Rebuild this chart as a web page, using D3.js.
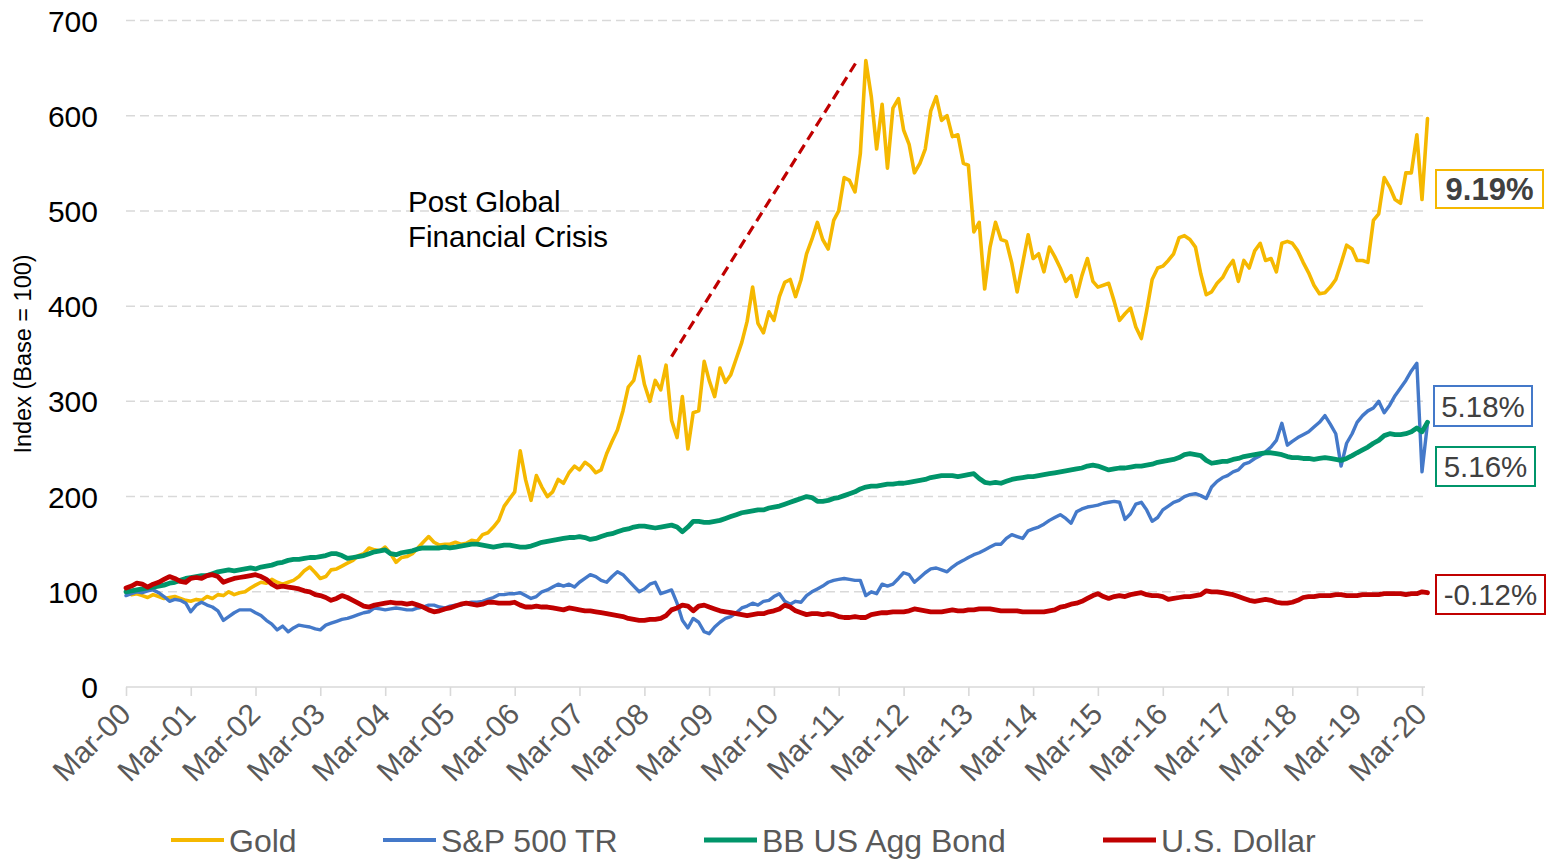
<!DOCTYPE html>
<html>
<head>
<meta charset="utf-8">
<script src="https://cdn.jsdelivr.net/npm/d3@7"></script>
<style>
  html, body { margin: 0; padding: 0; background: #ffffff; }
  svg { display: block; font-family: "Liberation Sans", Arial, sans-serif; }
</style>
</head>
<body>
<svg id="chart" width="1547" height="859"></svg>
<script>
// ---------------- DATA (monthly, Mar-2000 .. Apr-2020, Index Base = 100) ----------------
const startMonth = new Date(2000, 2, 1);
const seriesNames = ["Gold", "S&P 500 TR", "BB US Agg Bond", "U.S. Dollar"];

const gold = [
100,97,98,96,94,97,95,93,94,95,93,91,
90,92,91,95,93,97,96,100,97,99,100,104,
107,110,109,113,110,108,110,112,116,122,126,120,
114,116,123,124,127,130,133,138,140,146,144,143,
147,140,131,136,137,140,146,152,158,152,149,150,
150,152,150,151,154,153,160,162,168,175,190,198,
205,248,218,196,222,210,200,205,218,214,225,232,
228,236,232,225,228,245,258,270,290,315,322,347,
318,300,322,312,338,280,262,305,250,288,290,342,
322,305,335,320,328,345,362,384,420,382,372,394,
385,410,425,428,410,428,455,470,488,470,460,490,
500,535,532,520,560,658,620,565,612,545,608,618,
585,570,540,550,565,605,620,595,600,578,580,550,
548,478,488,418,462,488,470,468,445,415,445,475,
450,455,436,462,452,440,426,432,410,432,450,426,
420,422,424,405,385,392,398,378,366,395,428,440,
442,448,455,472,474,470,462,434,412,415,424,430,
440,448,426,448,440,458,466,448,450,436,466,468,
466,458,446,435,422,413,414,420,428,445,464,460,
448,448,446,490,497,535,525,512,508,540,540,580,
512,597
];

const sp500 = [
96,98,100,99,101,102,99,95,90,92,91,88,
79,86,89,86,84,80,70,74,78,81,81,81,
78,75,70,66,60,64,58,62,65,64,63,61,
60,65,67,69,71,72,74,76,78,79,83,82,
81,82,83,82,81,81,83,84,86,86,84,83,
85,86,86,88,89,89,90,92,94,97,97,98,
98,99,96,93,95,100,102,105,108,106,108,105,
110,114,118,116,112,110,116,121,118,112,106,100,
103,108,110,98,100,102,88,70,62,72,68,58,
56,63,68,72,74,78,83,85,88,86,90,91,
95,98,90,87,90,89,96,100,103,106,110,112,
113,114,113,112,112,96,100,98,108,106,108,114,
120,118,110,115,120,124,125,123,121,126,130,133,
136,139,141,144,147,150,150,156,160,158,156,164,
166,168,171,175,178,181,177,172,184,187,189,190,
191,193,194,195,194,176,182,192,194,186,174,178,
186,190,194,196,200,202,203,201,198,210,216,220,
222,226,228,234,236,240,243,247,252,259,277,254,
258,262,265,268,273,278,285,276,266,232,256,266,
278,285,290,293,300,288,296,306,314,322,332,340,
226,277
];

const aggBond = [
100,101,102,103,104,105,106,107,109,110,112,114,
115,116,117,117,119,121,122,123,122,123,124,125,
124,126,127,128,130,131,133,134,134,135,136,136,
137,138,140,140,138,135,136,137,138,140,142,143,
144,140,139,141,142,143,145,146,146,146,146,147,
146,147,148,149,150,150,149,148,147,148,149,149,
148,147,147,148,150,152,153,154,155,156,157,157,
158,157,155,156,158,160,161,163,165,166,168,169,
169,168,167,168,169,170,168,163,168,174,174,173,
173,174,175,177,179,181,183,184,185,186,186,188,
189,190,192,194,196,198,200,199,195,195,196,198,
199,201,203,205,208,210,211,211,212,213,213,214,
214,215,216,217,218,220,221,222,222,222,221,222,
223,224,219,215,214,215,214,216,218,219,220,221,
221,222,223,224,225,226,227,228,229,230,232,233,
232,230,228,229,230,230,231,232,232,233,234,236,
237,238,239,241,244,245,244,243,238,235,236,237,
237,239,240,242,243,244,245,246,246,245,244,242,
241,241,240,240,239,240,241,240,239,238,240,243,
246,249,252,256,259,264,266,265,265,266,268,272,
268,278
];

const usDollar = [
104,106,109,108,105,108,110,113,116,114,111,110,
114,115,114,117,118,116,110,112,114,115,116,117,
118,116,113,108,105,106,105,104,103,101,100,97,
96,94,91,93,96,94,91,88,85,84,86,87,
88,89,88,88,87,88,86,84,81,79,80,82,
83,85,87,88,87,86,87,89,89,88,88,88,
89,86,84,84,85,84,84,83,82,81,83,82,
81,80,80,79,78,77,76,75,74,72,71,70,
70,71,71,72,75,81,83,86,85,80,85,86,
84,82,80,79,78,77,76,75,76,77,77,79,
80,82,86,84,80,78,76,77,77,76,77,76,
74,73,73,74,73,73,76,77,78,78,79,79,
79,80,82,81,80,79,79,79,80,81,80,80,
81,81,82,82,82,81,80,80,80,80,79,79,
79,79,79,80,81,84,85,87,88,90,93,96,
98,95,93,95,96,95,97,98,99,97,96,96,
95,92,93,94,95,95,96,97,101,100,100,99,
98,97,95,93,91,90,91,92,91,89,88,88,
89,91,94,95,95,96,96,96,97,97,96,96,
96,97,97,97,97,98,98,98,98,97,98,98,
100,99
];

const yTicks = [0, 100, 200, 300, 400, 500, 600, 700];
const cagrLabels = ["9.19%", "5.18%", "5.16%", "-0.12%"];
const annotationLines = ["Post Global", "Financial Crisis"];
// dashed trend annotation: [date, index value]
const trendStart = [new Date(2008, 7, 1), 347];
const trendEnd = [new Date(2011, 5, 21), 660];

// ---------------- LAYOUT / STYLE ----------------
const colors = ["#F5B800", "#4479C9", "#00956A", "#C00000"];
const widths = [3.6, 3.4, 4.8, 4.8];
const seriesData = [gold, sp500, aggBond, usDollar];
const months = seriesData[0].map((_, i) => d3.timeMonth.offset(startMonth, i));

const svg = d3.select("#chart");
const x = d3.scaleTime()
  .domain([new Date(2000, 2, 1), new Date(2020, 2, 1)])
  .range([126, 1422]);
const y = d3.scaleLinear().domain([0, 700]).range([687, 20.5]);
const gridRight = 1425;

// gridlines
svg.append("g").selectAll("line")
  .data(yTicks.filter(v => v > 0))
  .join("line")
  .attr("x1", 126).attr("x2", gridRight)
  .attr("y1", d => y(d)).attr("y2", d => y(d))
  .attr("stroke", "#d9d9d9").attr("stroke-width", 1.5)
  .attr("stroke-dasharray", "9,5");

// y axis labels (no line)
const yAxis = d3.axisLeft(y).tickValues(yTicks).tickSize(0).tickPadding(0);
const yg = svg.append("g").attr("transform", "translate(98,0)").call(yAxis);
yg.select(".domain").remove();
yg.selectAll("text").attr("font-size", 30).attr("fill", "#000")
  .attr("font-family", "Liberation Sans, Arial, sans-serif").attr("dy", "0.35em");

// x axis
const xTicks = d3.timeYear.every(1).range(new Date(2000, 0, 1), new Date(2021, 0, 1))
  .map(d => new Date(d.getFullYear(), 2, 1));
const xAxis = d3.axisBottom(x).tickValues(xTicks).tickFormat(d3.timeFormat("%b-%y"))
  .tickSize(9).tickSizeOuter(0);
const xg = svg.append("g").attr("transform", "translate(0,687)").call(xAxis);
xg.select(".domain").attr("stroke", "#d9d9d9").attr("stroke-width", 1.6)
  .attr("d", `M126,0H${gridRight}`);
xg.selectAll(".tick line").attr("stroke", "#d9d9d9").attr("stroke-width", 1.6);
xg.selectAll(".tick text")
  .attr("font-size", 30).attr("fill", "#595959")
  .attr("font-family", "Liberation Sans, Arial, sans-serif")
  .attr("text-anchor", "end")
  .attr("dy", null).attr("y", null)
  .attr("transform", "translate(6,29) rotate(-45)");

// y axis title
svg.append("text")
  .attr("transform", "translate(31,354) rotate(-90)")
  .attr("text-anchor", "middle")
  .attr("font-size", 23.5).attr("fill", "#000")
  .text("Index (Base = 100)");

// lines
const line = d3.line().x((d, i) => x(months[i])).y(d => y(d));
seriesData.forEach((s, k) => {
  svg.append("path")
    .datum(s)
    .attr("fill", "none")
    .attr("stroke", colors[k])
    .attr("stroke-width", widths[k])
    .attr("stroke-linejoin", "round")
    .attr("stroke-linecap", "round")
    .attr("d", line);
});

// dashed annotation line
svg.append("line")
  .attr("x1", x(trendStart[0])).attr("y1", y(trendStart[1]))
  .attr("x2", x(trendEnd[0])).attr("y2", y(trendEnd[1]))
  .attr("stroke", "#C00000").attr("stroke-width", 3.2)
  .attr("stroke-dasharray", "10,6");

// annotation text
const ann = svg.append("text").attr("x", 408).attr("font-size", 29.5).attr("fill", "#000");
annotationLines.forEach((t, i) => {
  ann.append("tspan").attr("x", 408).attr("y", 212 + i * 35).text(t);
});

// CAGR label boxes
const boxes = [
  {x: 1436, y: 170, w: 107, h: 38, bold: true},
  {x: 1434, y: 386, w: 98, h: 40, bold: false},
  {x: 1436, y: 447, w: 99, h: 39, bold: false},
  {x: 1436, y: 575, w: 109, h: 39, bold: false}
];
boxes.forEach((b, k) => {
  svg.append("rect")
    .attr("x", b.x).attr("y", b.y).attr("width", b.w).attr("height", b.h)
    .attr("fill", "#fff").attr("stroke", colors[k]).attr("stroke-width", 2);
  svg.append("text")
    .attr("x", b.x + b.w / 2).attr("y", b.y + b.h / 2)
    .attr("dy", "0.36em")
    .attr("text-anchor", "middle")
    .attr("font-size", b.bold ? 31 : 29.5)
    .attr("font-weight", b.bold ? "bold" : "normal")
    .attr("fill", "#404040")
    .text(cagrLabels[k]);
});

// legend
const legendX = [171, 383, 704, 1103];
seriesNames.forEach((n, k) => {
  const g = svg.append("g").attr("transform", `translate(${legendX[k]},840)`);
  g.append("line").attr("x1", 0).attr("x2", 53).attr("y1", 0).attr("y2", 0)
    .attr("stroke", colors[k]).attr("stroke-width", k >= 2 ? 5 : 4);
  g.append("text").attr("x", 58).attr("dy", "0.36em")
    .attr("font-size", 32).attr("fill", "#595959").text(n);
});
</script>
</body>
</html>
